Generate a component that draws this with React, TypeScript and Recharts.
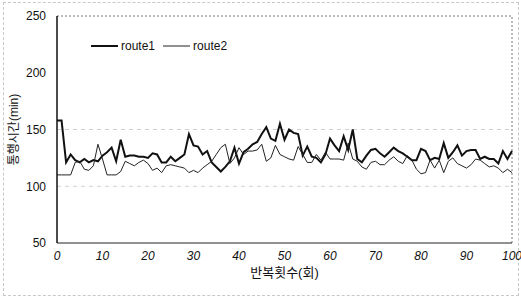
import React from "react";
import { LineChart, Line, XAxis, YAxis, CartesianGrid, Legend, ReferenceLine } from "recharts";

const iterations = [
  0, 1, 2, 3, 4, 5, 6, 7, 8, 9, 10, 11, 12, 13, 14, 15, 16, 17, 18, 19,
  20, 21, 22, 23, 24, 25, 26, 27, 28, 29, 30, 31, 32, 33, 34, 35, 36, 37, 38, 39,
  40, 41, 42, 43, 44, 45, 46, 47, 48, 49, 50, 51, 52, 53, 54, 55, 56, 57, 58, 59,
  60, 61, 62, 63, 64, 65, 66, 67, 68, 69, 70, 71, 72, 73, 74, 75, 76, 77, 78, 79,
  80, 81, 82, 83, 84, 85, 86, 87, 88, 89, 90, 91, 92, 93, 94, 95, 96, 97, 98, 99, 100,
];

const route1 = [
  158, 158, 121, 128, 123, 121, 124, 121, 123, 122,
  127, 130, 134, 122, 141, 126, 127, 127, 126, 126,
  125, 129, 128, 121, 121, 126, 122, 125, 128, 146,
  136, 135, 128, 131, 121, 117, 113, 117, 122, 134,
  120, 130, 133, 137, 139, 146, 152, 142, 140, 155,
  141, 150, 147, 146, 127, 135, 126, 125, 121, 128,
  142, 136, 131, 144, 132, 150, 124, 121, 127, 132,
  133, 129, 126, 130, 134, 131, 129, 126, 123, 123,
  133, 131, 123, 125, 124, 138, 125, 130, 136, 127,
  131, 132, 132, 124, 126, 124, 124, 120, 131, 124, 131,
];

const route2 = [
  110, 110, 110, 110, 121, 122, 115, 114, 118, 137,
  124, 110, 110, 110, 113, 122, 120, 118, 121, 123,
  120, 114, 116, 112, 118, 119, 118, 117, 116, 112,
  114, 112, 116, 119, 122, 128, 134, 137, 120, 125,
  134, 128, 131, 131, 132, 137, 122, 125, 136, 128,
  126, 124, 123, 135, 128, 121, 121, 128, 123, 130,
  124, 124, 124, 123, 138, 124, 122, 117, 115, 121,
  122, 119, 119, 123, 126, 122, 120, 127, 123, 115,
  111, 112, 123, 116, 123, 112, 122, 125, 120, 118,
  116, 119, 124, 123, 120, 117, 118, 116, 112, 115, 112,
];

const xTicks = [0, 10, 20, 30, 40, 50, 60, 70, 80, 90, 100];
const yTicks = [50, 100, 150, 200, 250];
const seriesNames = ["route1", "route2"];
const xTitle = "반복횟수(회)";
const yTitle = "통행시간(min)";

const data = iterations.map((it, i) => ({ iter: it, route1: route1[i], route2: route2[i] }));

const FONT = "'Liberation Sans', Arial, 'Noto Sans CJK KR', sans-serif";

const LegendContent = () => (
  <div style={{ display: "flex", alignItems: "center", fontFamily: FONT, fontSize: 12, color: "#111" }}>
    <svg width={27} height={6} style={{ marginRight: 3 }}>
      <line x1={0} y1={3} x2={27} y2={3} stroke="#111" strokeWidth={2} />
    </svg>
    <span style={{ marginRight: 8 }}>{seriesNames[0]}</span>
    <svg width={27} height={6} style={{ marginRight: 3 }}>
      <line x1={0} y1={3} x2={27} y2={3} stroke="#222" strokeWidth={1} />
    </svg>
    <span>{seriesNames[1]}</span>
  </div>
);

export default function App() {
  return (
    <div style={{ position: "absolute", left: 0, top: 0, width: 521, height: 298, background: "#fff" }}>
      <div
        style={{
          position: "absolute",
          left: 3,
          top: 2,
          width: 514,
          height: 292,
          border: "1px dashed #c8c8c8",
          pointerEvents: "none",
        }}
      />
      <LineChart width={521} height={298} data={data} margin={{ top: 16, right: 9, bottom: 0, left: 0 }}>
        <CartesianGrid vertical={false} stroke="#d0d0d0" strokeDasharray="4 4" horizontalValues={[100, 150]} />
        <XAxis
          dataKey="iter"
          type="number"
          domain={[0, 100]}
          ticks={xTicks}
          interval={0}
          height={41}
          tickSize={0}
          tickMargin={8}
          axisLine={{ stroke: "#222", strokeWidth: 1 }}
          tick={{ fontSize: 12, fill: "#111", fontFamily: FONT, fontStyle: "italic" }}
          label={{ value: xTitle, position: "insideBottom", offset: 7, fontSize: 13, fill: "#111", fontFamily: FONT }}
        />
        <YAxis
          type="number"
          domain={[50, 250]}
          ticks={yTicks}
          interval={0}
          width={57}
          tickSize={0}
          tickMargin={11}
          axisLine={{ stroke: "#111", strokeWidth: 1.5 }}
          tick={{ fontSize: 12, fill: "#111", fontFamily: FONT }}
          label={{
            value: yTitle,
            angle: -90,
            position: "insideLeft",
            offset: 14,
            fontSize: 12,
            fill: "#111",
            fontFamily: FONT,
            style: { textAnchor: "middle" },
          }}
        />
        <ReferenceLine y={250} stroke="#777" strokeDasharray="2 2" />
        <ReferenceLine x={100} stroke="#777" strokeDasharray="2 2" />
        <Legend
          content={<LegendContent />}
          wrapperStyle={{ position: "absolute", left: 91, top: 39, width: "auto" }}
        />
        <Line
          type="linear"
          dataKey="route1"
          name={seriesNames[0]}
          stroke="#111"
          strokeWidth={2}
          dot={false}
          isAnimationActive={false}
        />
        <Line
          type="linear"
          dataKey="route2"
          name={seriesNames[1]}
          stroke="#222"
          strokeWidth={1}
          dot={false}
          isAnimationActive={false}
        />
      </LineChart>
    </div>
  );
}
